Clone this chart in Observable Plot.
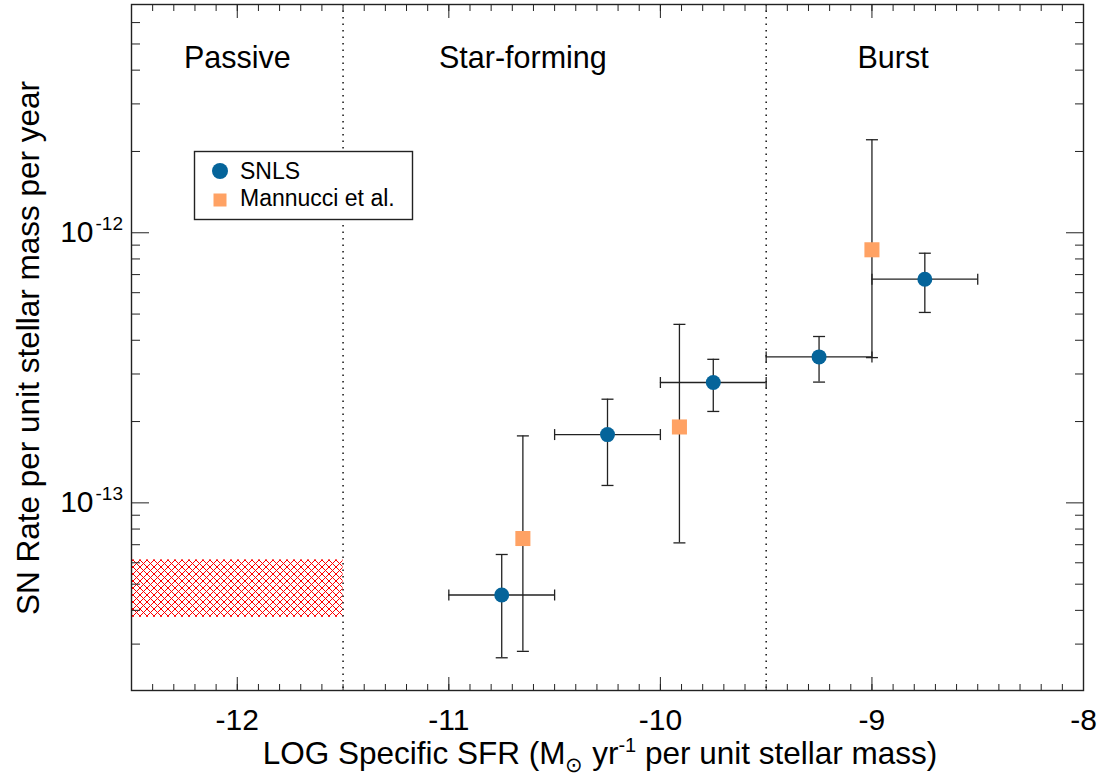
<!DOCTYPE html>
<html><head><meta charset="utf-8">
<script src="https://cdn.jsdelivr.net/npm/d3@7"></script>
<script src="https://cdn.jsdelivr.net/npm/@observablehq/plot@0.6"></script>
<style>
body{margin:0;background:#fff;font-family:"Liberation Sans",Arial,Helvetica,sans-serif;}
#wrap{position:relative;width:1102px;height:777px;}
</style></head><body><div id="wrap"></div>
<script>
// ---- data ----
const snlsX = [-10.75, -10.25, -9.75, -9.25, -8.75];
const snlsXLo = [-11.0, -10.5, -10.0, -9.5, -9.0];
const snlsXHi = [-10.5, -10.0, -9.5, -9.0, -8.5];
const snlsRate = [4.56e-14, 1.79e-13, 2.79e-13, 3.47e-13, 6.73e-13];
const snlsRateHi = [6.44e-14, 2.42e-13, 3.40e-13, 4.13e-13, 8.40e-13];
const snlsRateLo = [2.67e-14, 1.16e-13, 2.18e-13, 2.80e-13, 5.07e-13];

const mannX = [-10.65, -9.91, -9.0];
const mannRate = [7.38e-14, 1.91e-13, 8.65e-13];
const mannRateHi = [1.77e-13, 4.58e-13, 2.21e-12];
const mannRateLo = [2.82e-14, 7.11e-14, 3.45e-13];

const passiveX = [-12.5, -11.5];
const passiveRate = [3.77e-14, 6.15e-14];

const boundaries = [-11.5, -9.5];
const regionNames = ["Passive", "Star-forming", "Burst"];
const regionX = [-12.0, -10.65, -8.9];
const regionY = [4.41e-12, 4.41e-12, 4.41e-12];

const xTickValues = [-12, -11, -10, -9, -8];
const xTickLabels = ["-12", "-11", "-10", "-9", "-8"];
const xMinor = d3.range(-125, -79).map(i => i / 10);
const yMajor = [1e-13, 1e-12];
const yBase = ["10", "10"];
const yExp = ["-13", "-12"];
const yMinor = [3e-14,4e-14,5e-14,6e-14,7e-14,8e-14,9e-14,2e-13,3e-13,4e-13,5e-13,6e-13,7e-13,8e-13,9e-13,2e-12,3e-12,4e-12,5e-12,6e-12];

const seriesNames = ["SNLS", "Mannucci et al."];
const blue = "#05649a", orange = "#ffa264", ink = "#222";

// ---- helpers ----
const snls = snlsX.map((x, i) => ({x, xlo: snlsXLo[i], xhi: snlsXHi[i], y: snlsRate[i], ylo: snlsRateLo[i], yhi: snlsRateHi[i]}));
const mann = mannX.map((x, i) => ({x, y: mannRate[i], ylo: mannRateLo[i], yhi: mannRateHi[i]}));
const capH = {draw(ctx, size) { const h = Math.sqrt(size / Math.PI); ctx.moveTo(-h, 0); ctx.lineTo(h, 0); }};
const capV = {draw(ctx, size) { const h = Math.sqrt(size / Math.PI); ctx.moveTo(0, -h); ctx.lineTo(0, h); }};

const plot = Plot.plot({
  width: 1102, height: 777,
  marginLeft: 131, marginRight: 19, marginTop: 4, marginBottom: 87,
  x: {domain: [-12.5, -8]},
  y: {type: "log", domain: [2.02e-14, 7.0e-12]},
  style: {fontFamily: "'Liberation Sans', Arial, sans-serif", color: "#000", background: "#fff", overflow: "visible"},
  marks: [
    Plot.rect([0], {x1: () => passiveX[0], x2: () => passiveX[1], y1: () => passiveRate[0], y2: () => passiveRate[1], fill: "url(#hatch)"}),
    Plot.ruleX(boundaries, {x: d => d, stroke: "#000", strokeWidth: 1.4, strokeDasharray: "1.5,5"}),
    Plot.text(regionNames, {x: (d, i) => regionX[i], y: (d, i) => regionY[i], text: d => d, fontSize: 30.5, fill: "#000"}),
    // error bars
    Plot.ruleY(snls, {y: "y", x1: "xlo", x2: "xhi", stroke: ink, strokeWidth: 1.3}),
    Plot.ruleX(snls, {x: "x", y1: "ylo", y2: "yhi", stroke: ink, strokeWidth: 1.3}),
    Plot.ruleX(mann, {x: "x", y1: "ylo", y2: "yhi", stroke: ink, strokeWidth: 1.3}),
    Plot.dot(snls, {x: "xlo", y: "y", symbol: capV, r: 5.5, stroke: ink, strokeWidth: 1.3}),
    Plot.dot(snls, {x: "xhi", y: "y", symbol: capV, r: 5.5, stroke: ink, strokeWidth: 1.3}),
    Plot.dot(snls, {x: "x", y: "ylo", symbol: capH, r: 6, stroke: ink, strokeWidth: 1.3}),
    Plot.dot(snls, {x: "x", y: "yhi", symbol: capH, r: 6, stroke: ink, strokeWidth: 1.3}),
    Plot.dot(mann, {x: "x", y: "ylo", symbol: capH, r: 6, stroke: ink, strokeWidth: 1.3}),
    Plot.dot(mann, {x: "x", y: "yhi", symbol: capH, r: 6, stroke: ink, strokeWidth: 1.3}),
    // points
    Plot.dot(mann, {x: "x", y: "y", symbol: "square", r: 8.5, fill: orange, stroke: null}),
    Plot.dot(snls, {x: "x", y: "y", r: 7.5, fill: blue, stroke: null}),
    // ticks (inward)
    Plot.axisX(xMinor, {anchor: "bottom", tickSize: -6, fill: "none", label: null, stroke: ink}),
    Plot.axisX(xTickValues, {anchor: "bottom", tickSize: -13, fill: "none", label: null, stroke: ink}),
    Plot.axisX(xMinor, {anchor: "top", tickSize: -6, fill: "none", label: null, stroke: ink}),
    Plot.axisX(xTickValues, {anchor: "top", tickSize: -13, fill: "none", label: null, stroke: ink}),
    Plot.axisY(yMinor, {anchor: "left", tickSize: -9, fill: "none", label: null, stroke: ink}),
    Plot.axisY(yMajor, {anchor: "left", tickSize: -18, fill: "none", label: null, stroke: ink}),
    Plot.axisY(yMinor, {anchor: "right", tickSize: -9, fill: "none", label: null, stroke: ink}),
    Plot.axisY(yMajor, {anchor: "right", tickSize: -18, fill: "none", label: null, stroke: ink}),
    // tick labels
    Plot.text(xTickValues, {x: d => d, frameAnchor: "bottom", dy: 30, text: (d, i) => xTickLabels[i], fontSize: 30, lineAnchor: "middle", fill: "#000"}),
    Plot.text(yMajor, {y: d => d, frameAnchor: "left", dx: -38, text: (d, i) => yBase[i], textAnchor: "end", fontSize: 30, lineAnchor: "middle", fill: "#000"}),
    Plot.text(yMajor, {y: d => d, frameAnchor: "left", dx: -36, dy: -9, text: (d, i) => yExp[i], textAnchor: "start", fontSize: 19, lineAnchor: "middle", fill: "#000"}),
    Plot.frame({stroke: ink, strokeWidth: 1.4})
  ]
});

const svg = d3.select(plot);
const pat = svg.insert("defs", ":first-child").append("pattern")
  .attr("id", "hatch").attr("patternUnits", "userSpaceOnUse").attr("width", 7).attr("height", 7);
pat.append("path").attr("d", "M-1,-1L8,8M8,-1L-1,8").attr("stroke", "#ff0000").attr("stroke-width", 1).attr("fill", "none");

// axis titles
const xt = svg.append("text").attr("x", 600).attr("y", 764).attr("text-anchor", "middle")
  .attr("font-size", 31.5).attr("fill", "#000");
xt.append("tspan").text("LOG Specific SFR (M");
xt.append("tspan").attr("font-size", 21).attr("dy", 8).text("\u2299");
xt.append("tspan").attr("dy", -8).text(" yr");
xt.append("tspan").attr("font-size", 20).attr("dy", -12).text("-1");
xt.append("tspan").attr("dy", 12).text(" per unit stellar mass)");

svg.append("text").attr("transform", "translate(39,348) rotate(-90)").attr("text-anchor", "middle")
  .attr("font-size", 31.5).attr("fill", "#000").text("SN Rate per unit stellar mass per year");

// legend
const lg = svg.append("g");
lg.append("rect").attr("x", 194.5).attr("y", 151.5).attr("width", 218).attr("height", 68)
  .attr("fill", "#fff").attr("stroke", ink).attr("stroke-width", 1.4);
lg.append("circle").attr("cx", 220).attr("cy", 171).attr("r", 8).attr("fill", blue);
lg.append("rect").attr("x", 213.5).attr("y", 193.5).attr("width", 13).attr("height", 13).attr("fill", orange);
lg.append("text").attr("x", 240).attr("y", 179).attr("text-anchor", "start").attr("font-size", 23).attr("fill", "#000").text(seriesNames[0]);
lg.append("text").attr("x", 240).attr("y", 206).attr("text-anchor", "start").attr("font-size", 23).attr("fill", "#000").text(seriesNames[1]);

document.getElementById("wrap").appendChild(plot);
</script></body></html>
